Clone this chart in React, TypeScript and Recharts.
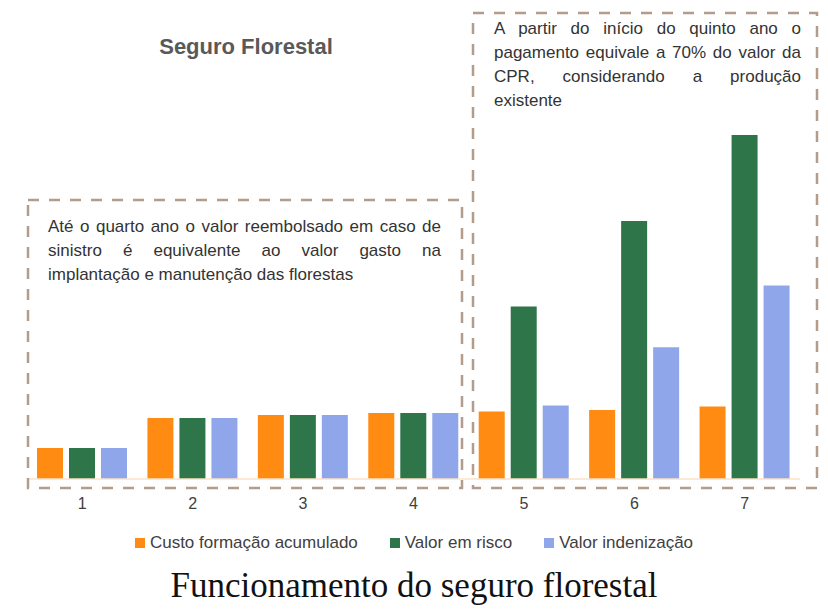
import { BarChart, Bar, XAxis, YAxis } from "recharts";

// anos do ciclo
const anos = ["1", "2", "3", "4", "5", "6", "7"];

// valores (unidade relativa)
const custoFormacao = [310, 610, 640, 660, 675, 690, 725];
const valorRisco = [310, 610, 640, 660, 1725, 2580, 3440];
const valorIndenizacao = [310, 610, 640, 660, 735, 1317, 1935];

const series = [
  { key: "custo", name: "Custo formação acumulado", color: "#FF8B12" },
  { key: "risco", name: "Valor em risco", color: "#2F754A" },
  { key: "indenizacao", name: "Valor indenização", color: "#8FA7EA" },
];

const notaEsquerda = [
  "Até o quarto ano o valor reembolsado em caso de",
  "sinistro é equivalente ao valor gasto na",
  "implantação e manutenção das florestas",
];

const notaDireita = [
  "A partir do início do quinto ano o",
  "pagamento equivale a 70% do valor da",
  "CPR, considerando a produção",
  "existente",
];

const data = anos.map((ano, i) => ({
  ano,
  custo: custoFormacao[i],
  risco: valorRisco[i],
  indenizacao: valorIndenizacao[i],
}));

const sans = "Arial, 'Liberation Sans', sans-serif";
const dashColor = "#B39C8C";

function Nota({
  lines,
  left,
  top,
  width,
}: {
  lines: string[];
  left: number;
  top: number;
  width: number;
}) {
  return (
    <div
      style={{
        position: "absolute",
        left,
        top,
        width,
        fontFamily: sans,
        fontSize: 17,
        lineHeight: "24px",
        color: "#333333",
      }}
    >
      {lines.map((l, i) => (
        <div
          key={i}
          style={{
            whiteSpace: "nowrap",
            textAlign: "justify",
            textAlignLast: i < lines.length - 1 ? "justify" : "left",
          }}
        >
          {l}
        </div>
      ))}
    </div>
  );
}

export default function App() {
  return (
    <div
      style={{
        position: "relative",
        width: 828,
        height: 611,
        background: "#ffffff",
        overflow: "hidden",
      }}
    >
      <style>{"body{margin:0}"}</style>

      <div
        style={{
          position: "absolute",
          left: 0,
          width: 492,
          top: 34,
          textAlign: "center",
          fontFamily: sans,
          fontWeight: "bold",
          fontSize: 22,
          color: "#595959",
        }}
      >
        Seguro Florestal
      </div>

      <BarChart
        width={828}
        height={611}
        data={data}
        margin={{ top: 79, right: 28, left: 27, bottom: 102 }}
        barCategoryGap={10}
        barGap={6}
      >
        <XAxis
          dataKey="ano"
          axisLine={{ stroke: "#FBE3C9", strokeWidth: 1.5 }}
          tickLine={false}
          tickMargin={13}
          tick={{ fontSize: 16, fill: "#404040", fontFamily: sans }}
        />
        <YAxis hide domain={[0, 4000]} />
        {series.map((s) => (
          <Bar
            key={s.key}
            dataKey={s.key}
            name={s.name}
            fill={s.color}
            isAnimationActive={false}
          />
        ))}
      </BarChart>

      <svg
        width={828}
        height={611}
        style={{ position: "absolute", left: 0, top: 0, pointerEvents: "none" }}
      >
        <rect
          x={28}
          y={200}
          width={434}
          height={288}
          fill="none"
          stroke={dashColor}
          strokeWidth={2.5}
          strokeDasharray="11 10"
        />
        <rect
          x={473}
          y={13}
          width={344}
          height={475}
          fill="none"
          stroke={dashColor}
          strokeWidth={2.5}
          strokeDasharray="11 10"
        />
      </svg>

      <Nota lines={notaEsquerda} left={48} top={215} width={393} />
      <Nota lines={notaDireita} left={494} top={17} width={307} />

      <div
        style={{
          position: "absolute",
          top: 532,
          left: 0,
          width: 828,
          display: "flex",
          justifyContent: "center",
          fontFamily: sans,
          fontSize: 17,
          color: "#404040",
          lineHeight: "22px",
        }}
      >
        {series.map((s, i) => (
          <div
            key={s.key}
            style={{
              display: "flex",
              alignItems: "center",
              marginLeft: i === 0 ? 0 : 32,
            }}
          >
            <span
              style={{
                width: 10,
                height: 10,
                background: s.color,
                marginRight: 5,
                display: "inline-block",
              }}
            />
            {s.name}
          </div>
        ))}
      </div>

      <div
        style={{
          position: "absolute",
          top: 566,
          left: 0,
          width: 828,
          textAlign: "center",
          fontFamily: "'Times New Roman', 'Liberation Serif', serif",
          fontSize: 35,
          color: "#111111",
        }}
      >
        Funcionamento do seguro florestal
      </div>
    </div>
  );
}
